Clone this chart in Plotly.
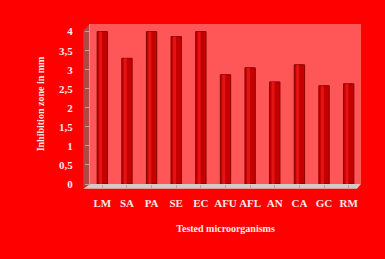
import plotly.graph_objects as go

categories = ["LM", "SA", "PA", "SE", "EC", "AFU", "AFL", "AN", "CA", "GC", "RM"]
values = [4.0, 3.3, 4.0, 3.87, 4.0, 2.87, 3.05, 2.68, 3.13, 2.58, 2.63]
tick_vals = [0, 0.5, 1, 1.5, 2, 2.5, 3, 3.5, 4]
tick_text = ["0", "0,5", "1", "1,5", "2", "2,5", "3", "3,5", "4"]

font = dict(family="Liberation Serif, Times New Roman, serif", color="#FFE8E8")

fig = go.Figure()
fig.add_trace(go.Bar(x=categories, y=values, width=0.42,
                     marker=dict(color="#C40000", line=dict(color="#8A0000", width=1))))
fig.add_trace(go.Bar(x=categories, y=values, width=0.12, offset=-0.13,
                     marker=dict(color="#E41414", line=dict(width=0))))

fig.update_layout(
    width=385, height=259, barmode="overlay", showlegend=False,
    paper_bgcolor="#FF0000", plot_bgcolor="#FF5757",
    margin=dict(l=90, r=24, t=24, b=75),
    font=font,
    shapes=[
        # left wall
        dict(type="path", xref="paper", yref="paper",
             path="M -0.025,-0.02 L 0,0.0 L 0,1 L -0.025,0.96 Z",
             fillcolor="#B04848", line=dict(width=0), layer="below"),
        # floor
        dict(type="path", xref="paper", yref="paper",
             path="M -0.025,-0.03 L 0,0.0 L 1.0,0.0 L 0.985,-0.03 Z",
             fillcolor="#D8C8C8", line=dict(width=0), layer="below"),
    ],
)
fig.update_xaxes(
    showgrid=False, ticks="outside", ticklen=3, tickcolor="#C0A0A0",
    tickfont=dict(size=11, family=font["family"], color="#FFE8E8", weight="bold"),
    ticklabelstandoff=6,
    title=dict(text="<b>Tested microorganisms</b>", font=dict(size=10), standoff=16),
)
fig.update_yaxes(
    range=[0, 4.2], tickvals=tick_vals, ticktext=tick_text, showgrid=False,
    ticks="outside", ticklen=4, tickcolor="#C0A0A0", zeroline=False,
    showline=True, linecolor="#C0A0A0",
    tickfont=dict(size=11, family=font["family"], color="#FFE8E8", weight="bold"),
    ticklabelstandoff=10,
    title=dict(text="<b>Inhibition zone in mm</b>", font=dict(size=10), standoff=12),
)
fig.write_html("out.html")
